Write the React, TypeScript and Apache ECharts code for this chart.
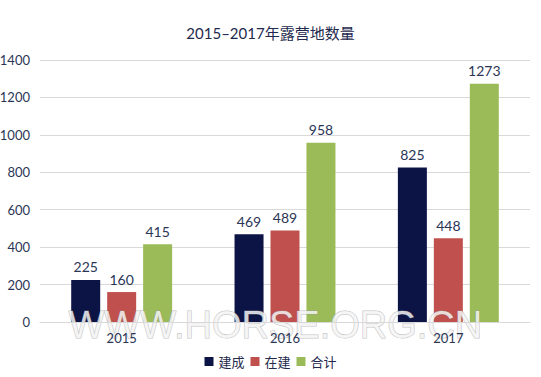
import React, { useEffect, useRef } from "react";
import * as echarts from "echarts";

const categories = ["2015", "2016", "2017"];
const built = [225, 469, 825];
const building = [160, 489, 448];
const total = [415, 958, 1273];
const seriesNames = ["建成", "在建", "合计"];

export default function App() {
  const ref = useRef<HTMLDivElement>(null);
  useEffect(() => {
    if (!ref.current) return;
    const chart = echarts.init(ref.current, null, { renderer: "svg" });
    const font = "Lato, 'Noto Sans CJK SC', sans-serif";
    const label = {
      show: true,
      position: "top",
      color: "#2b3656",
      fontSize: 14,
      fontFamily: font,
      distance: 6,
    };
    chart.setOption({
      animation: false,
      title: {
        text: "2015–2017年露营地数量",
        left: "center",
        top: 20,
        textStyle: { color: "#1f2a4d", fontSize: 15, fontWeight: "normal", fontFamily: font },
      },
      legend: {
        bottom: 4,
        left: "center",
        itemWidth: 9,
        itemHeight: 9,
        itemGap: 6,
        icon: "rect",
        textStyle: { color: "#1f2a4d", fontSize: 13, fontFamily: font },
        data: seriesNames,
      },
      grid: { left: 40, right: 11, top: 60, bottom: 55, containLabel: false, outerBoundsMode: "none" },
      xAxis: {
        type: "category",
        data: categories,
        z: 110,
        axisLine: { lineStyle: { color: "#d9d9d9" } },
        axisTick: { show: false },
        axisLabel: { color: "#2b3656", fontSize: 13, fontFamily: font, margin: 9 },
      },
      yAxis: {
        type: "value",
        min: 0,
        max: 1400,
        interval: 200,
        axisLine: { show: false },
        axisTick: { show: false },
        splitLine: { lineStyle: { color: "#d9d9d9" } },
        axisLabel: {
          color: "#2b3656",
          fontSize: 13,
          fontFamily: font,
          margin: 10,
          formatter: (v: number) => String(v),
        },
      },
      series: [
        { name: seriesNames[0], type: "bar", data: built, barWidth: 29, barGap: "24%", itemStyle: { color: "#0c1446" }, label },
        { name: seriesNames[1], type: "bar", data: building, barWidth: 29, barGap: "24%", itemStyle: { color: "#c0504d" }, label },
        { name: seriesNames[2], type: "bar", data: total, barWidth: 29, barGap: "24%", itemStyle: { color: "#9bbb59" }, label },
      ],
      graphic: [
        {
          type: "text",
          left: 68,
          top: 305,
          z: 100,
          style: {
            text: "WWW.HORSE.ORG.CN",
            fontSize: 38,
            fontFamily: "'Liberation Sans', Arial, sans-serif",
            fill: "rgba(245,245,245,0.85)",
            stroke: "rgba(150,150,150,0.6)",
            lineWidth: 1,
            shadowColor: "rgba(0,0,0,0.6)",
            shadowBlur: 8,
            shadowOffsetX: 2,
            shadowOffsetY: 3,
          },
        },
      ],
    });
    return () => chart.dispose();
  }, []);
  return <div ref={ref} style={{ width: 541, height: 377, position: "absolute", left: 0, top: 0 }} />;
}
